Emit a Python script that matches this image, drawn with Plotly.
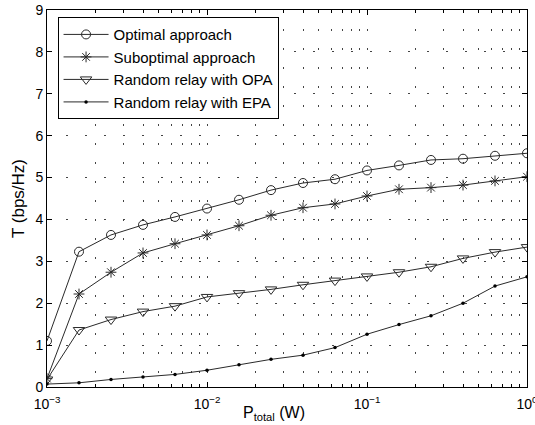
import numpy as np
import plotly.graph_objects as go

# x values: P_total (W), 0.2-decade steps from 1e-3 to 1e0
p_total = [0.001, 0.001585, 0.002512, 0.003981, 0.00631, 0.01, 0.01585, 0.02512,
           0.03981, 0.0631, 0.1, 0.1585, 0.2512, 0.3981, 0.631, 1.0]

optimal = [1.10, 3.23, 3.63, 3.87, 4.06, 4.26, 4.47, 4.70,
           4.87, 4.96, 5.17, 5.29, 5.42, 5.45, 5.52, 5.58]
suboptimal = [0.20, 2.22, 2.74, 3.20, 3.42, 3.63, 3.85, 4.10,
              4.28, 4.37, 4.56, 4.72, 4.76, 4.82, 4.92, 5.02]
random_opa = [0.18, 1.36, 1.61, 1.80, 1.93, 2.15, 2.24, 2.33,
              2.44, 2.54, 2.64, 2.74, 2.87, 3.07, 3.22, 3.34]
random_epa = [0.07, 0.10, 0.18, 0.24, 0.30, 0.40, 0.53, 0.66,
              0.76, 0.94, 1.26, 1.49, 1.70, 2.00, 2.41, 2.63]

series_names = ["Optimal approach", "Suboptimal approach",
                "Random relay with OPA", "Random relay with EPA"]

y_ticks = list(range(0, 10))
x_ticks = [0.001, 0.01, 0.1, 1.0]
x_tick_labels = ["10<sup>−3</sup>", "10<sup>−2</sup>", "10<sup>−1</sup>", "10<sup>0</sup>"]
x_minor_ticks = [m * d for d in [0.001, 0.01, 0.1] for m in range(2, 10)]
x_title = "P<sub>total</sub> (W)"
y_title = "T (bps/Hz)"

LINE = "#2a2a2a"
FONT = "Liberation Sans, Arial, Helvetica, sans-serif"

fig = go.Figure()
styles = [
    dict(symbol="circle-open", size=9, color=LINE, line=dict(width=1, color=LINE)),
    dict(symbol="asterisk-open", size=9, color=LINE, line=dict(width=1, color=LINE)),
    dict(symbol="triangle-down-open", size=10, color=LINE, line=dict(width=1, color=LINE)),
    dict(symbol="circle", size=3.5, color="black", line=dict(width=0)),
]
for name, vals, mk in zip(series_names, [optimal, suboptimal, random_opa, random_epa], styles):
    fig.add_trace(go.Scatter(x=p_total, y=vals, name=name, mode="lines+markers",
                             line=dict(color=LINE, width=1), marker=mk))

grid_dash = "2px,17px"
grid_color = "#444"

fig.add_annotation(text=x_title, xref="paper", yref="paper", x=0.473, y=-0.04,
                   xanchor="center", yanchor="top", showarrow=False,
                   font=dict(size=16, family=FONT, color="black"))

fig.update_layout(
    width=535, height=425,
    margin=dict(l=47, r=8, t=10, b=38, autoexpand=False),
    paper_bgcolor="white", plot_bgcolor="white",
    font=dict(family=FONT, size=14, color="black"),
    showlegend=True,
    legend=dict(x=0.022, y=0.981, xanchor="left", yanchor="top",
                bgcolor="white", bordercolor="black", borderwidth=1,
                font=dict(size=15), itemwidth=45, tracegroupgap=0),
    xaxis=dict(type="log", range=[-3, 0], tickmode="array",
               tickvals=x_ticks, ticktext=x_tick_labels,
               automargin=False, ticklabeloverflow="allow", ticklabelstandoff=4,
               showline=True, linecolor="black", linewidth=1, mirror="allticks",
               ticks="inside", ticklen=5, tickcolor="black",
               showgrid=True, gridcolor=grid_color, griddash=grid_dash, gridwidth=1,
               zeroline=False,
               minor=dict(tickmode="array", tickvals=x_minor_ticks,
                          ticks="inside", ticklen=3, tickcolor="black",
                          showgrid=True, gridcolor=grid_color, griddash=grid_dash),
               tickfont=dict(size=14)),
    yaxis=dict(range=[0, 9], tickvals=y_ticks, automargin=False,
               showline=True, linecolor="black", linewidth=1, mirror="allticks",
               ticks="inside", ticklen=5, tickcolor="black",
               showgrid=True, gridcolor=grid_color, griddash=grid_dash, gridwidth=1,
               zeroline=False,
               title=dict(text=y_title, standoff=6),
               tickfont=dict(size=14)),
)

fig.write_html("out.html")
